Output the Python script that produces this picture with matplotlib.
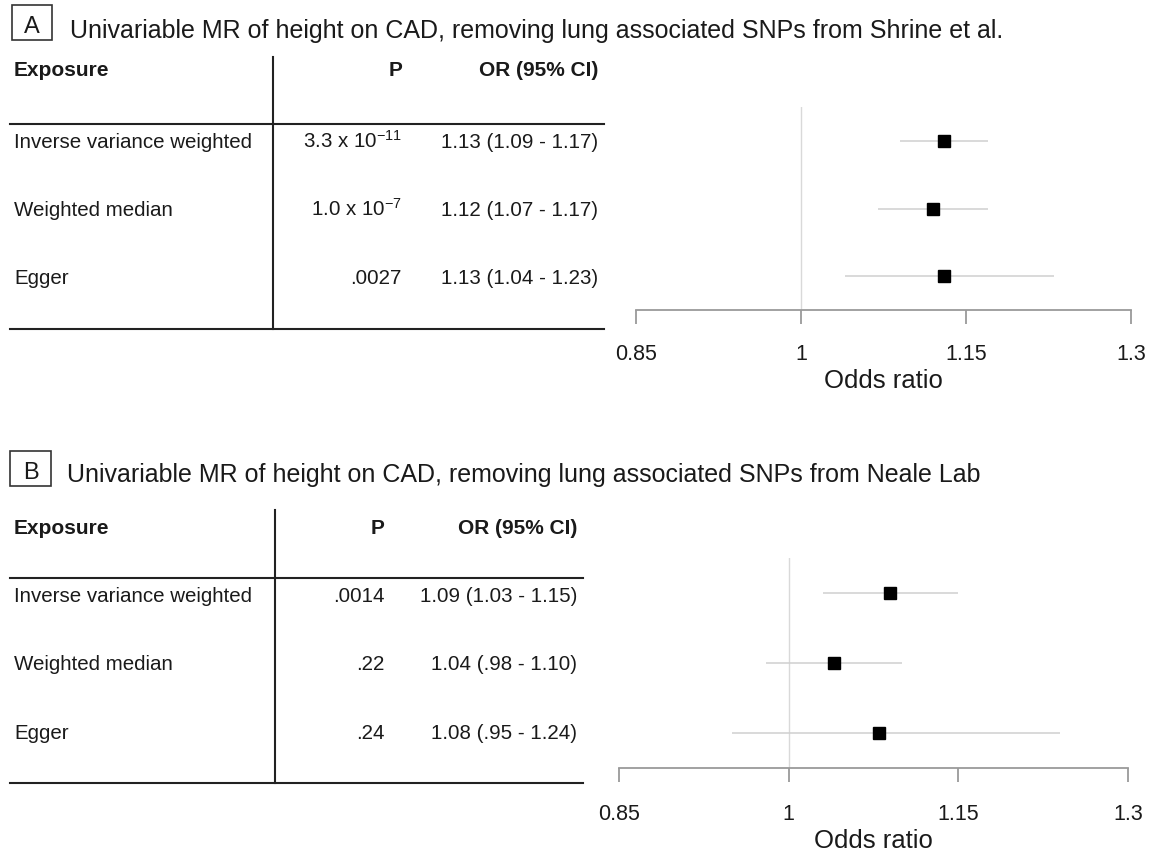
import matplotlib
matplotlib.use("Agg")
import matplotlib.pyplot as plt
from matplotlib.lines import Line2D
from matplotlib.patches import Rectangle

plt.rcParams['font.family'] = ['Liberation Sans', 'DejaVu Sans']
plt.rcParams['mathtext.default'] = 'regular'

# data
methods = ["Inverse variance weighted", "Weighted median", "Egger"]

a_title = "Univariable MR of height on CAD, removing lung associated SNPs from Shrine et al."
a_or = [1.13, 1.12, 1.13]
a_lo = [1.09, 1.07, 1.04]
a_hi = [1.17, 1.17, 1.23]
a_p = [r"3.3 x 10$^{-11}$", r"1.0 x 10$^{-7}$", ".0027"]

b_title = "Univariable MR of height on CAD, removing lung associated SNPs from Neale Lab"
b_or = [1.09, 1.04, 1.08]
b_lo = [1.03, 0.98, 0.95]
b_hi = [1.15, 1.10, 1.24]
b_p = [".0014", ".22", ".24"]

ticks = [0.85, 1.0, 1.15, 1.3]
tick_labels = ["0.85", "1", "1.15", "1.3"]

W, H = 1150, 852
TXT = "#1a1a1a"


def fx(x):
    return x / W


def fy(y):
    return 1 - y / H


def fmt(v):
    s = f"{v:.2f}"
    return s[1:] if s.startswith("0") else s


def hline(fig, x0, x1, y, color="#222222", lw=1.5):
    fig.add_artist(Line2D([fx(x0), fx(x1)], [fy(y), fy(y)], transform=fig.transFigure,
                          color=color, lw=lw))


def vline(fig, x, y0, y1, color="#222222", lw=1.5):
    fig.add_artist(Line2D([fx(x), fx(x)], [fy(y0), fy(y1)], transform=fig.transFigure,
                          color=color, lw=lw))


def panel(fig, letter, title, pvals, ors, los, his, L):
    # letter box + title
    bx0, by0, bx1, by1 = L["box"]
    fig.add_artist(Rectangle((fx(bx0), fy(by1)), (bx1 - bx0) / W, (by1 - by0) / H,
                             transform=fig.transFigure, fill=False, ec="#333333", lw=1.2))
    fig.text(fx((bx0 + bx1) / 2), fy(L["letter_base"]), letter, fontsize=17, color=TXT,
             ha="center", va="baseline")
    fig.text(fx(L["title_x"]), fy(L["title_base"]), title, fontsize=18, color=TXT,
             ha="left", va="baseline")

    # table
    hb = L["head_base"]
    fig.text(fx(14), fy(hb), "Exposure", fontsize=15, fontweight="bold", color=TXT,
             ha="left", va="baseline")
    fig.text(fx(L["p_x"]), fy(hb), "P", fontsize=15, fontweight="bold", color=TXT,
             ha="right", va="baseline")
    fig.text(fx(L["or_x"]), fy(hb), "OR (95% CI)", fontsize=15, fontweight="bold",
             color=TXT, ha="right", va="baseline")
    for i, m in enumerate(methods):
        yb = L["row_base"][i]
        fig.text(fx(14), fy(yb), m, fontsize=14.8, color=TXT, ha="left", va="baseline")
        fig.text(fx(L["p_x"]), fy(yb), pvals[i], fontsize=14.8, color=TXT,
                 ha="right", va="baseline")
        ci = f"{fmt(ors[i])} ({fmt(los[i])} - {fmt(his[i])})"
        fig.text(fx(L["or_x"]), fy(yb), ci, fontsize=14.8, color=TXT,
                 ha="right", va="baseline")
    hline(fig, 10, L["line_x1"], L["head_line"])
    hline(fig, 10, L["line_x1"], L["bottom_line"])
    vline(fig, L["vline_x"], L["vline_top"], L["bottom_line"])

    # forest plot
    left, right, top, bottom = L["ax"]
    ax = fig.add_axes([fx(left), fy(bottom), (right - left) / W, (bottom - top) / H])
    ypos = [3, 2, 1]
    ax.axvline(1.0, color="#d9d9d9", lw=1.0, zorder=1)
    ax.hlines(ypos, los, his, color="#cfcfcf", lw=1.1, zorder=2)
    ax.plot(ors, ypos, ls="none", marker="s", ms=8.8, color="black", zorder=3)
    ax.set_xlim(0.85, 1.3)
    ax.set_ylim(0.5, 3.5)
    for s in ["top", "left", "right"]:
        ax.spines[s].set_visible(False)
    ax.spines["bottom"].set_color("#9a9a9a")
    ax.spines["bottom"].set_linewidth(1.3)
    ax.set_yticks([])
    ax.set_xticks(ticks)
    ax.set_xticklabels(tick_labels)
    ax.tick_params(axis="x", direction="out", length=10, width=1.3, color="#9a9a9a",
                   labelsize=15.5, labelcolor=TXT, pad=L["tick_pad"])
    ax.set_xlabel("Odds ratio", fontsize=18.5, color=TXT, va="baseline")
    ax.xaxis.set_label_coords(0.5, (bottom - L["xlabel_base"]) / (bottom - top))
    ax.patch.set_visible(False)
    return ax


fig = plt.figure(figsize=(11.5, 8.52), dpi=100)

layout_a = dict(box=(12, 5, 52, 40), letter_base=33, title_x=70, title_base=38,
                head_base=76.5, row_base=[148, 216, 284], p_x=402, or_x=598,
                line_x1=604, head_line=124, bottom_line=329, vline_x=273, vline_top=57,
                ax=(636, 1131, 107, 310), tick_pad=14.4, xlabel_base=388)
layout_b = dict(box=(10, 451, 51, 486), letter_base=479, title_x=67, title_base=482,
                head_base=534, row_base=[602, 670, 739], p_x=385, or_x=577,
                line_x1=583, head_line=578, bottom_line=783, vline_x=275, vline_top=510,
                ax=(619, 1128, 558, 768), tick_pad=15.8, xlabel_base=848)

panel(fig, "A", a_title, a_p, a_or, a_lo, a_hi, layout_a)
panel(fig, "B", b_title, b_p, b_or, b_lo, b_hi, layout_b)

fig.savefig("out.png", dpi=100, facecolor="white")
